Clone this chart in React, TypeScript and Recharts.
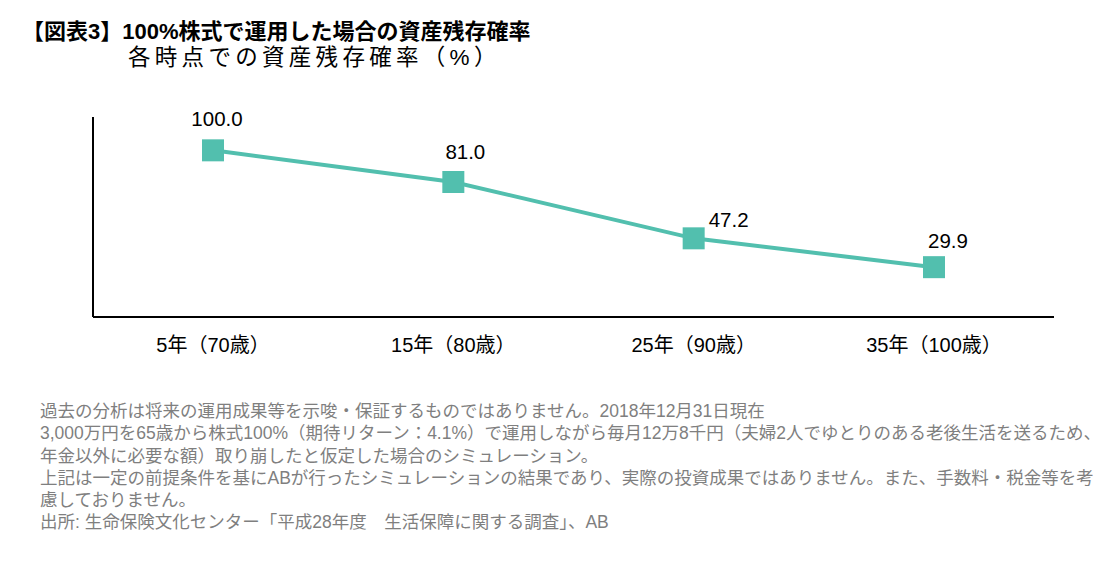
import React from 'react'
import { LineChart, Line, XAxis, YAxis, LabelList } from 'recharts'

const categories = ['5年（70歳）', '15年（80歳）', '25年（90歳）', '35年（100歳）']
const survivalRates = [100.0, 81.0, 47.2, 29.9]

const titleMain = '【図表3】100%株式で運用した場合の資産残存確率'
const titleSub = '各時点での資産残存確率（%）'

const noteLines = [
  '過去の分析は将来の運用成果等を示唆・保証するものではありません。2018年12月31日現在',
  '3,000万円を65歳から株式100%（期待リターン：4.1%）で運用しながら毎月12万8千円（夫婦2人でゆとりのある老後生活を送るため、',
  '年金以外に必要な額）取り崩したと仮定した場合のシミュレーション。',
  '上記は一定の前提条件を基にABが行ったシミュレーションの結果であり、実際の投資成果ではありません。また、手数料・税金等を考',
  '慮しておりません。',
  '出所: 生命保険文化センター「平成28年度　生活保障に関する調査」、AB',
]

const chartData = categories.map((name, i) => ({ name, rate: survivalRates[i] }))

const TEAL = '#52BFAE'
const FONT = '"Liberation Sans", Arial, "Noto Sans CJK JP", sans-serif'

// label nudges (px) so the numbers sit like in the original
const labelShift = [
  { dx: 4, dy: -32 },
  { dx: 12, dy: -31 },
  { dx: 35, dy: -19 },
  { dx: 14, dy: -27 },
]

const SquareDot = (props: any) => {
  const { cx, cy } = props
  if (cx == null || cy == null) return null
  return <rect x={cx - 11} y={cy - 11} width={22} height={22} fill={TEAL} />
}

const ValueLabel = (props: any) => {
  const { x, y, value, index } = props
  const s = labelShift[index] || { dx: 0, dy: -30 }
  return (
    <text
      x={x + s.dx}
      y={y + s.dy}
      textAnchor="middle"
      dominantBaseline="central"
      fontSize={20.5}
      fill="#000"
      fontFamily={FONT}
    >
      {Number(value).toFixed(1)}
    </text>
  )
}

const App: React.FC = () => {
  return (
    <div
      style={{
        position: 'absolute',
        left: 0,
        top: 0,
        width: 1108,
        height: 563,
        background: '#fff',
        fontFamily: FONT,
        overflow: 'hidden',
      }}
    >
      <div style={{ position: 'absolute', left: 22, top: 19, fontSize: 22, fontWeight: 'bold', color: '#000', lineHeight: '26px', whiteSpace: 'nowrap' }}>
        {titleMain}
      </div>
      <div style={{ position: 'absolute', left: 128, top: 45, fontSize: 22.5, letterSpacing: 4.3, color: '#000', lineHeight: '26px', whiteSpace: 'nowrap' }}>
        {titleSub}
      </div>

      <div style={{ position: 'absolute', left: 0, top: 0 }}>
        <LineChart width={1108} height={370} data={chartData} margin={{ top: 117, right: 54, left: 33, bottom: 23 }}>
          <XAxis
            dataKey="name"
            axisLine={{ stroke: '#000', strokeWidth: 2 }}
            tickLine={false}
            tickSize={0}
            tickMargin={21}
            height={30}
            interval={0}
            padding={{ left: 120, right: 120 }}
            tick={{ fill: '#000', fontSize: 20, fontFamily: FONT }}
          />
          <YAxis
            domain={[0, 120]}
            width={60}
            tick={false}
            tickLine={false}
            axisLine={{ stroke: '#000', strokeWidth: 2 }}
          />
          <Line
            type="linear"
            dataKey="rate"
            stroke={TEAL}
            strokeWidth={4}
            dot={<SquareDot />}
            activeDot={false}
            isAnimationActive={false}
          >
            <LabelList dataKey="rate" content={<ValueLabel />} />
          </Line>
        </LineChart>
      </div>

      <div style={{ position: 'absolute', left: 40, top: 400, fontSize: 17.5, color: '#7f7f7f', lineHeight: '22.3px', whiteSpace: 'nowrap' }}>
        {noteLines.map((line, i) => (
          <div key={i}>{line}</div>
        ))}
      </div>
    </div>
  )
}

export default App
